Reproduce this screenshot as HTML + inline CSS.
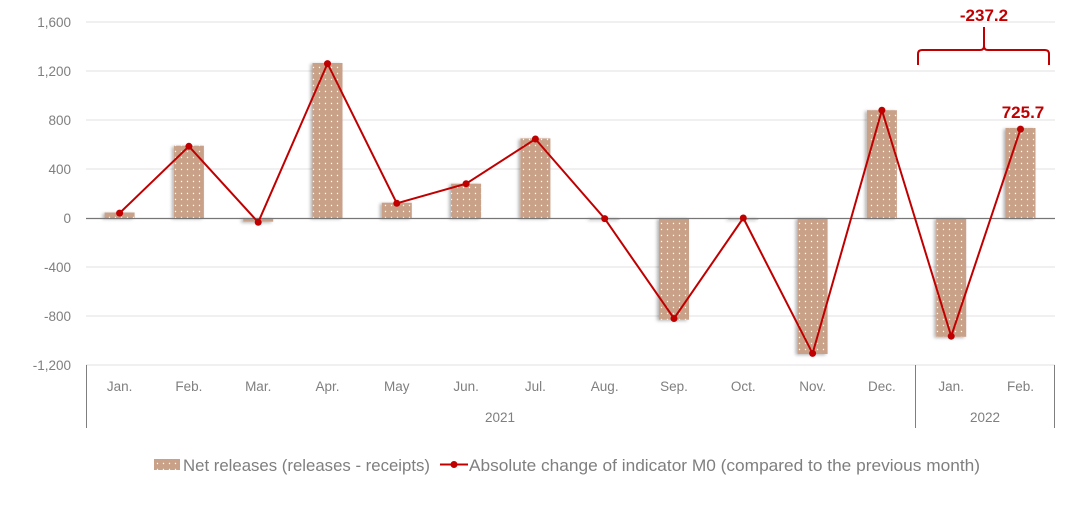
<!DOCTYPE html>
<html><head><meta charset="utf-8"><style>
body{margin:0;background:#fff;}
text{font-family:"Liberation Sans",Arial,sans-serif;}
</style></head><body>
<svg width="1092" height="502" viewBox="0 0 1092 502" xmlns="http://www.w3.org/2000/svg">
<defs>
<pattern id="dots" width="6" height="6" patternUnits="userSpaceOnUse">
<rect width="6" height="6" fill="#c9a189"/>
<circle cx="1.5" cy="1.5" r="0.7" fill="#fff"/>
</pattern>
<filter id="sh" x="-30%" y="-10%" width="160%" height="130%"><feDropShadow dx="-2" dy="1" stdDeviation="1.5" flood-color="#000" flood-opacity="0.3"/></filter>
</defs>
<g stroke="#e0e0e0" stroke-width="1">
<line x1="86" y1="22" x2="1055" y2="22"/><line x1="86" y1="71" x2="1055" y2="71"/>
<line x1="86" y1="120" x2="1055" y2="120"/><line x1="86" y1="169" x2="1055" y2="169"/>
<line x1="86" y1="267" x2="1055" y2="267"/><line x1="86" y1="316" x2="1055" y2="316"/>
<line x1="86" y1="365" x2="1055" y2="365"/>
</g>
<g fill="#7f7f7f" font-size="13.5" text-anchor="end">
<text x="71" y="27">1,600</text><text x="71" y="76">1,200</text><text x="71" y="125">800</text>
<text x="71" y="174">400</text><text x="71" y="223">0</text><text x="71" y="272">-400</text>
<text x="71" y="321">-800</text><text x="71" y="370">-1,200</text>
</g>
<g fill="url(#dots)" filter="url(#sh)">
<rect x="104.6" y="212.5" width="30" height="5.5"/>
<rect x="173.9" y="145.7" width="30" height="72.3"/>
<rect x="243.2" y="218" width="30" height="3.7"/>
<rect x="312.5" y="63" width="30" height="155"/>
<rect x="381.8" y="202.7" width="30" height="15.3"/>
<rect x="451.1" y="183.7" width="30" height="34.3"/>
<rect x="520.4" y="138.4" width="30" height="79.6"/>
<rect x="589.7" y="218" width="30" height="1.5"/>
<rect x="659" y="218" width="30" height="101.7"/>
<rect x="728.3" y="218" width="30" height="1.5"/>
<rect x="797.6" y="218" width="30" height="136"/>
<rect x="866.9" y="110.2" width="30" height="107.8"/>
<rect x="936.2" y="218" width="30" height="118.8"/>
<rect x="1005.5" y="128" width="30" height="90"/>
</g>
<line x1="86" y1="218.5" x2="1055" y2="218.5" stroke="#767676" stroke-width="1.2"/>
<g stroke="#7f7f7f" stroke-width="1">
<line x1="86.5" y1="365" x2="86.5" y2="428"/>
<line x1="915.5" y1="365" x2="915.5" y2="428"/>
<line x1="1054.5" y1="365" x2="1054.5" y2="428"/>
</g>
<g fill="#7f7f7f" font-size="13.5" text-anchor="middle">
<text x="119.6" y="391">Jan.</text><text x="188.9" y="391">Feb.</text><text x="258.2" y="391">Mar.</text>
<text x="327.5" y="391">Apr.</text><text x="396.8" y="391">May</text><text x="466.1" y="391">Jun.</text>
<text x="535.4" y="391">Jul.</text><text x="604.7" y="391">Aug.</text><text x="674" y="391">Sep.</text>
<text x="743.3" y="391">Oct.</text><text x="812.6" y="391">Nov.</text><text x="881.9" y="391">Dec.</text>
<text x="951.2" y="391">Jan.</text><text x="1020.5" y="391">Feb.</text>
<text x="500" y="422">2021</text><text x="985" y="422">2022</text>
</g>
<polyline fill="none" stroke="#c00000" stroke-width="2" points="119.6,213.1 188.9,146.3 258.2,222.3 327.5,63.6 396.8,203.3 466.1,183.7 535.4,139 604.7,218.6 674,318.5 743.3,218 812.6,353.4 881.9,110.2 951.2,336.2 1020.5,129.1"/>
<g fill="#c00000">
<circle cx="119.6" cy="213.1" r="3.5"/><circle cx="188.9" cy="146.3" r="3.5"/><circle cx="258.2" cy="222.3" r="3.5"/>
<circle cx="327.5" cy="63.6" r="3.5"/><circle cx="396.8" cy="203.3" r="3.5"/><circle cx="466.1" cy="183.7" r="3.5"/>
<circle cx="535.4" cy="139" r="3.5"/><circle cx="604.7" cy="218.6" r="3.5"/><circle cx="674" cy="318.5" r="3.5"/>
<circle cx="743.3" cy="218" r="3.5"/><circle cx="812.6" cy="353.4" r="3.5"/><circle cx="881.9" cy="110.2" r="3.5"/>
<circle cx="951.2" cy="336.2" r="3.5"/><circle cx="1020.5" cy="129.1" r="3.5"/>
</g>
<g fill="#c00000" font-size="17" font-weight="bold" text-anchor="middle">
<text x="1023" y="118">725.7</text>
<text x="984" y="21">-237.2</text>
</g>
<path d="M918,65 L918,54 Q918,50 922,50 L980,50 Q984,50 984,46 L984,27 M984,46 Q984,50 988,50 L1045,50 Q1049,50 1049,54 L1049,65" fill="none" stroke="#c00000" stroke-width="2"/>
<rect x="154" y="459" width="26" height="11" fill="url(#dots)"/>
<text x="183" y="471" font-size="17" fill="#7f7f7f" textLength="247" lengthAdjust="spacingAndGlyphs">Net releases (releases - receipts)</text>
<line x1="440" y1="464.5" x2="468" y2="464.5" stroke="#c00000" stroke-width="2"/>
<circle cx="454" cy="464.5" r="3.5" fill="#c00000"/>
<text x="469" y="471" font-size="17" fill="#7f7f7f" textLength="511" lengthAdjust="spacingAndGlyphs">Absolute change of indicator M0 (compared to the previous month)</text>
</svg>
</body></html>
